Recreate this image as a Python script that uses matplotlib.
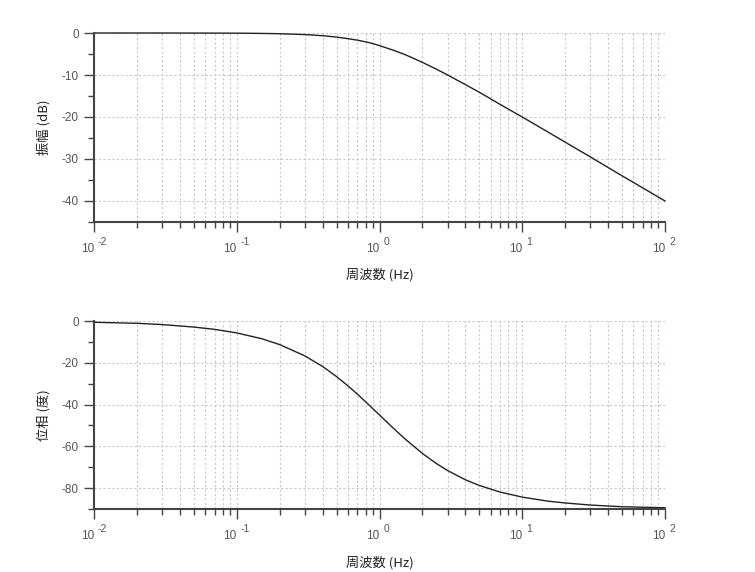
import matplotlib
matplotlib.use("Agg")
import matplotlib.pyplot as plt
from matplotlib.ticker import FixedLocator, LogLocator, NullFormatter, MultipleLocator
from matplotlib.transforms import blended_transform_factory, offset_copy
import numpy as np

# --- data ---
mag_freq = [0.01, 0.03, 0.1, 0.15, 0.2, 0.3, 0.4, 0.5, 0.6, 0.7, 0.85, 1.0, 1.25, 1.5, 2.0, 2.5,
            3.0, 4.0, 5.0, 7.0, 10.0, 15.0, 20.0, 30.0, 50.0, 70.0, 100.0]
mag_db = [0.0, 0.0, -0.04, -0.1, -0.17, -0.37, -0.64, -0.97, -1.34, -1.7, -2.3, -3.0, -4.1, -5.1,
          -7.0, -8.6, -10.0, -12.3, -14.1, -17.0, -20.0, -23.5, -26.0, -29.5, -34.0, -36.9, -40.0]

ph_freq = [0.01, 0.015, 0.02, 0.03, 0.05, 0.07, 0.1, 0.15, 0.2, 0.3, 0.4, 0.5, 0.6, 0.7, 0.85,
           1.0, 1.25, 1.5, 2.0, 2.5, 3.0, 4.0, 5.0, 7.0, 10.0, 15.0, 20.0, 30.0, 50.0, 100.0]
ph_deg = [-0.6, -0.9, -1.1, -1.7, -2.9, -4.0, -5.7, -8.5, -11.3, -16.7, -21.8, -26.6, -31.0,
          -35.0, -40.4, -45.0, -51.3, -56.3, -63.4, -68.2, -71.6, -76.0, -78.7, -81.9, -84.3,
          -86.2, -87.1, -88.1, -88.9, -89.4]

x_ticks = [0.01, 0.1, 1, 10, 100]
x_exps = ["-2", "-1", "0", "1", "2"]
mag_ticks = [0, -10, -20, -30, -40]
ph_ticks = [0, -20, -40, -60, -80]

xlabel = "周波数 (Hz)"
mag_label = "振幅 (dB)"
ph_label = "位相 (度)"

plt.rcParams['font.family'] = ['Liberation Sans', 'Noto Sans CJK JP', 'DejaVu Sans']

fig = plt.figure(figsize=(7.55, 5.72), dpi=100)
ax1 = fig.add_axes([0.1245, 0.6119, 0.7563, 0.3304])
ax2 = fig.add_axes([0.1245, 0.1101, 0.7563, 0.3287])

tick_col = '#555555'
spine_col = '#444444'
cjk = ['Noto Sans CJK JP', 'DejaVu Sans']

def style(ax, ylim, yticks, yminor, ylab):
    ax.set_xscale('log')
    ax.set_xlim(0.01, 100)
    ax.set_ylim(*ylim)
    ax.xaxis.set_major_locator(FixedLocator(x_ticks))
    ax.xaxis.set_minor_locator(LogLocator(base=10, subs=np.arange(2, 10)))
    ax.xaxis.set_minor_formatter(NullFormatter())
    ax.set_xticklabels([])
    ax.yaxis.set_major_locator(FixedLocator(yticks))
    ax.yaxis.set_minor_locator(MultipleLocator(yminor))
    ax.set_yticklabels([str(v) for v in yticks])
    for s in ['top', 'right']:
        ax.spines[s].set_visible(False)
    for s in ['left', 'bottom']:
        ax.spines[s].set_color(spine_col)
        ax.spines[s].set_linewidth(1.5)
    ax.tick_params(which='major', direction='out', length=7, width=1.0, color=spine_col,
                   labelcolor=tick_col, labelsize=8.5)
    ax.tick_params(which='minor', direction='out', length=4, width=1.0, color=spine_col)
    ax.tick_params(axis='y', which='major', pad=4)
    ax.grid(True, which='major', axis='both', color='#c8c8c8', linestyle=(0, (2, 2)), linewidth=0.8)
    ax.grid(True, which='minor', axis='x', color='#c8c8c8', linestyle=(0, (2, 2)), linewidth=0.8)
    ax.set_axisbelow(True)
    # x tick labels: "10" with raised exponent
    tr = blended_transform_factory(ax.transData, ax.transAxes)
    base_tr = offset_copy(tr, fig=fig, x=0, y=-30, units='dots')
    exp_tr = offset_copy(tr, fig=fig, x=4, y=-23, units='dots')
    for xv, e in zip(x_ticks, x_exps):
        ax.text(xv, 0, "10", transform=base_tr, ha='right', va='baseline',
                fontsize=8.5, color=tick_col)
        ax.text(xv, 0, e, transform=exp_tr, ha='left', va='baseline',
                fontsize=7.5, color=tick_col)
    ax.set_xlabel(xlabel, family=cjk, fontsize=9.5, color='#222222', labelpad=23)
    ax.set_ylabel(ylab, family=cjk, fontsize=9.5, color='#222222', labelpad=8)

style(ax1, (-45, 0), mag_ticks, 5, mag_label)
style(ax2, (-90, 0), ph_ticks, 10, ph_label)

ax1.plot(mag_freq, mag_db, color='#222222', linewidth=1.0, clip_on=False)
ax2.plot(ph_freq, ph_deg, color='#222222', linewidth=1.0, clip_on=False)

fig.savefig('out.png', dpi=100, facecolor='white')
